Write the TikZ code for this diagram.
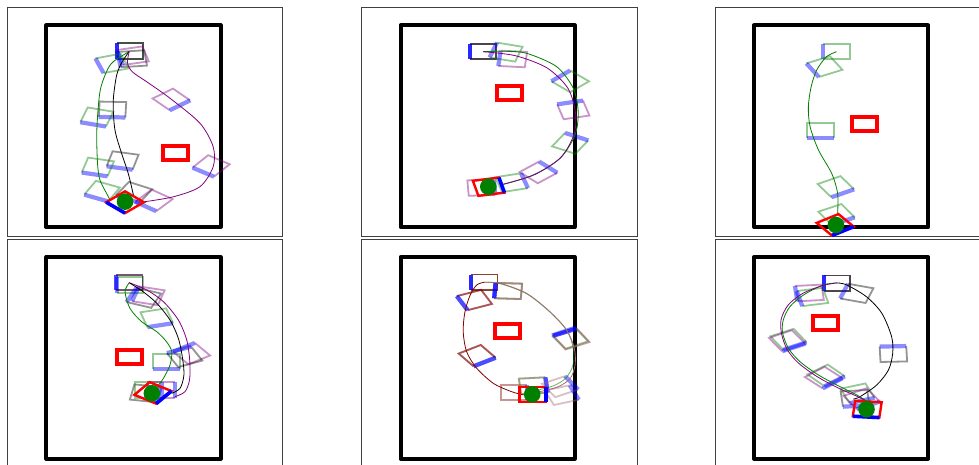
\documentclass[tikz,border=0pt]{standalone}
\definecolor{trgreen}{RGB}{0,128,0}
\definecolor{trpurple}{RGB}{128,0,128}
\definecolor{trmaroon}{RGB}{128,0,0}
\definecolor{trrosy}{RGB}{165,105,115}
\tikzset{
  panelframe/.style={draw=black!75, line width=0.8pt},
  room/.style={draw=black, line width=4pt, line join=round},
  obstacle/.style={draw=red, line width=4pt},
  posebody/.style={draw=#1, draw opacity=0.42, line width=1.8pt},
  posefront/.style={draw=blue, draw opacity=0.45, line width=4.2pt},
  goalbody/.style={draw=red, line width=2.4pt},
  goalfront/.style={draw=blue, line width=3.6pt},
  traj/.style={draw=#1, line width=0.8pt},
  world/.style={x=34.84pt, y=20.15pt},
}
% car pose: centre x, centre y, heading (deg), colour; square body, front edge in blue
\newcommand\carpose[4]{%
  \draw[posebody=#4] (#1,#2) +(#3+45:0.54) -- +(#3+135:0.54) -- +(#3+225:0.54) -- +(#3+315:0.54);
  \draw[posefront] (#1,#2) +(#3-45:0.54) -- +(#3+45:0.54);}
% target pose with its marker
\newcommand\goalpose[3]{%
  \draw[goalbody] (#1,#2) +(#3+45:0.54) -- +(#3+135:0.54) -- +(#3+225:0.54) -- +(#3+315:0.54) -- cycle;
  \draw[goalfront] (#1,#2) +(#3-45:0.54) -- +(#3+45:0.54);}
\newcommand\goaldot[2]{\fill[trgreen] (#1,#2) circle[radius=8.3pt];}
\newcommand\obstbox[2]{\draw[obstacle] (#1-0.36,#2-0.35) rectangle (#1+0.36,#2+0.35);}
\newcommand\roomwalls{\draw[room] (0,0) rectangle (5,10);}
\begin{document}
\begin{tikzpicture}[x=1pt,y=-1pt]
\useasboundingbox (0,0) rectangle (979,465);
\clip (0,0) rectangle (979,465);
\fill[white] (0,0) rectangle (979,465);
\foreach \ox/\oy in {0/0,354.2/0,707.7/0,0/231.6,354.2/231.6,707.7/231.6}
  \draw[panelframe] (7.3+\ox,7.3+\oy) rectangle (282.7+\ox,236+\oy);

% ---------- panel 1 ----------
\begin{scope}[shift={(46.3,227)}, world]
  \roomwalls
  \obstbox{3.71}{3.68}
  \carpose{2.40}{8.73}{180}{trpurple}
  \carpose{2.40}{8.73}{180}{trgreen}
  \carpose{2.40}{8.73}{180}{black}
  \carpose{2.47}{8.35}{186}{black}
  \carpose{2.48}{8.50}{194}{trpurple}
  \carpose{1.89}{8.12}{198}{trgreen}
  \carpose{1.90}{5.83}{268}{black}
  \carpose{1.45}{5.46}{254}{trgreen}
  \carpose{3.59}{6.33}{310}{trpurple}
  \carpose{2.19}{3.30}{257}{black}
  \carpose{1.48}{2.98}{256}{trgreen}
  \carpose{4.73}{3.03}{234}{trpurple}
  \carpose{1.60}{1.78}{244}{trgreen}
  \carpose{2.52}{1.72}{241}{black}
  \carpose{3.09}{1.32}{232}{trpurple}
  \draw[traj=trgreen] plot[smooth] coordinates {(2.38,8.71) (1.92,8.20) (1.73,7.71) (1.54,6.71) (1.45,4.81) (1.47,3.16) (1.54,2.33) (1.73,1.67) (1.83,1.34)};
  \draw[traj=black] plot[smooth] coordinates {(2.38,8.71) (2.18,8.2) (2.02,7.54) (1.92,6.21) (1.97,4.82) (2.16,3.66) (2.35,2.67) (2.50,1.59)};
  \draw[traj=trpurple] plot[smooth] coordinates {(2.38,8.71) (2.33,8.15) (2.47,7.7) (2.88,7.21) (3.55,6.39) (4.41,5.15) (4.79,3.98) (4.79,2.99) (4.41,2.00) (3.65,1.50) (2.80,1.25)};
  \goalpose{2.26}{1.23}{225}
  \goaldot{2.26}{1.26}
\end{scope}

% ---------- panel 2 ----------
\begin{scope}[shift={(400.5,227)}, world]
  \roomwalls
  \obstbox{3.13}{6.64}
  \carpose{2.37}{8.70}{180}{trgreen}
  \carpose{2.37}{8.70}{180}{trpurple}
  \carpose{2.37}{8.70}{180}{black}
  \carpose{3.03}{8.68}{164}{trgreen}
  \carpose{3.22}{8.34}{175}{trpurple}
  \carpose{4.87}{7.23}{135}{trgreen}
  \carpose{4.96}{5.81}{104}{trpurple}
  \carpose{4.87}{4.15}{61}{trgreen}
  \carpose{3.96}{2.71}{43}{trpurple}
  \carpose{3.19}{2.20}{15}{trgreen}
  \carpose{2.32}{1.95}{3}{trpurple}
  \draw[traj=trgreen] plot[smooth] coordinates {(2.37,8.70) (3.0,8.72) (3.62,8.62) (4.48,7.96) (4.96,6.88) (5.10,5.72) (5.01,4.57) (4.58,3.41) (3.81,2.58) (2.95,2.12)};
  \draw[traj=trpurple] plot[smooth] coordinates {(2.37,8.70) (3.3,8.5) (4.2,7.9) (4.8,6.9) (5.02,5.7) (4.98,4.6) (4.6,3.45) (3.85,2.6) (2.95,2.12)};
  \goalpose{2.53}{2.0}{12}
  \goaldot{2.52}{2.0}
\end{scope}

% ---------- panel 3 ----------
\begin{scope}[shift={(754,227)}, world]
  \roomwalls
  \obstbox{3.16}{5.10}
  \carpose{2.37}{8.70}{180}{trgreen}
  \carpose{2.02}{7.96}{208}{trgreen}
  \carpose{1.91}{4.78}{270}{trgreen}
  \carpose{2.35}{2.00}{301}{trgreen}
  \carpose{2.37}{0.62}{300}{trgreen}
  \draw[traj=trgreen] plot[smooth] coordinates {(2.37,8.70) (2.08,8.45) (1.80,7.79) (1.64,6.96) (1.56,5.97) (1.61,4.98) (1.85,3.82) (2.23,2.66) (2.40,1.67) (2.40,0.68)};
  \goalpose{2.33}{0.11}{305}
  \goaldot{2.35}{0.10}
\end{scope}

% ---------- panel 4 ----------
\begin{scope}[shift={(46.3,458.6)}, world]
  \roomwalls
  \obstbox{2.40}{5.06}
  \carpose{2.40}{8.62}{180}{trgreen}
  \carpose{2.38}{8.73}{180}{trpurple}
  \carpose{2.38}{8.73}{180}{black}
  \carpose{2.80}{7.98}{158}{black}
  \carpose{2.93}{8.08}{165}{trpurple}
  \carpose{3.17}{6.99}{285}{trgreen}
  \carpose{3.45}{4.82}{270}{trgreen}
  \carpose{4.17}{5.21}{125}{trpurple}
  \carpose{3.97}{5.05}{115}{black}
  \carpose{2.84}{3.24}{350}{black}
  \carpose{2.93}{3.40}{0}{trgreen}
  \carpose{3.31}{3.40}{0}{trpurple}
  \draw[traj=trgreen] plot[smooth] coordinates {(2.38,8.73) (2.26,8.28) (2.40,7.46) (2.74,6.79) (3.17,6.30) (3.45,5.80) (3.60,5.31) (3.55,4.64) (3.36,3.98) (3.22,3.65)};
  \draw[traj=trpurple] plot[smooth] coordinates {(2.38,8.73) (2.88,8.37) (3.36,7.79) (3.79,6.88) (4.03,5.89) (4.12,4.81) (4.11,3.90) (3.98,3.32) (3.69,3.07)};
  \draw[traj=black] plot[smooth] coordinates {(2.38,8.73) (2.78,8.28) (3.17,7.71) (3.55,6.88) (3.79,5.97) (3.91,4.98) (3.95,4.15) (3.84,3.49) (3.60,3.24)};
  \goalpose{3.06}{3.26}{325}
  \goaldot{3.03}{3.24}
\end{scope}

% ---------- panel 5 ----------
\begin{scope}[shift={(400.5,458.6)}, world]
  \roomwalls
  \obstbox{3.06}{6.34}
  \carpose{2.40}{8.75}{180}{trgreen}
  \carpose{2.40}{8.75}{180}{trmaroon}
  \carpose{2.40}{8.75}{180}{trmaroon}
  \carpose{2.12}{7.87}{204}{trmaroon}
  \carpose{2.12}{7.87}{204}{trmaroon}
  \carpose{3.09}{8.32}{177}{trgreen}
  \carpose{3.09}{8.32}{177}{trrosy}
  \carpose{3.09}{8.32}{177}{trrosy}
  \carpose{4.87}{5.97}{120}{trgreen}
  \carpose{4.90}{5.94}{118}{trrosy}
  \carpose{4.90}{5.94}{118}{trrosy}
  \carpose{2.20}{5.11}{304}{trmaroon}
  \carpose{2.20}{5.11}{304}{trmaroon}
  \carpose{3.26}{3.29}{0}{trmaroon}
  \carpose{3.81}{3.62}{5}{trgreen}
  \carpose{3.81}{3.62}{5}{trrosy}
  \carpose{4.58}{3.57}{30}{trrosy}
  \carpose{4.63}{3.15}{20}{trrosy}
  \draw[traj=trgreen, draw opacity=0.6] plot[smooth] coordinates {(2.40,8.75) (2.86,8.68) (3.62,8.18) (4.29,7.27) (4.77,6.36) (4.96,5.47) (4.95,4.64) (4.75,4.00) (4.40,3.62) (3.95,3.40) (3.80,3.25)};
  \draw[traj=trrosy] plot[smooth] coordinates {(2.40,8.75) (2.86,8.70) (3.62,8.20) (4.29,7.29) (4.77,6.38) (4.99,5.47) (5.01,4.64) (4.87,3.98) (4.53,3.57) (4.00,3.32) (3.80,3.25)};
  \draw[traj=trmaroon] plot[smooth] coordinates {(2.40,8.75) (2.19,8.62) (2.00,8.12) (1.85,7.29) (1.80,6.30) (1.90,5.30) (2.19,4.48) (2.67,3.73) (3.19,3.32) (3.53,3.16)};
  \goalpose{3.80}{3.18}{0}
  \goaldot{3.78}{3.19}
\end{scope}

% ---------- panel 6 ----------
\begin{scope}[shift={(754,458.6)}, world]
  \roomwalls
  \obstbox{2.05}{6.74}
  \carpose{2.38}{8.71}{180}{trgreen}
  \carpose{2.38}{8.71}{180}{trpurple}
  \carpose{2.38}{8.71}{180}{black}
  \carpose{2.95}{8.20}{163}{black}
  \carpose{1.59}{8.22}{185}{trpurple}
  \carpose{1.68}{8.02}{192}{trgreen}
  \carpose{0.99}{5.92}{299}{trgreen}
  \carpose{0.95}{5.85}{300}{trpurple}
  \carpose{4.00}{5.19}{92}{black}
  \carpose{2.07}{4.13}{310}{trgreen}
  \carpose{2.00}{4.02}{312}{trpurple}
  \carpose{2.90}{2.99}{275}{black}
  \carpose{2.97}{3.24}{290}{trgreen}
  \carpose{3.09}{2.97}{300}{trpurple}
  \draw[traj=black] plot[smooth] coordinates {(2.38,8.72) (2.66,8.62) (3.23,8.03) (3.67,7.21) (3.95,6.05) (3.98,5.22) (3.86,4.40) (3.52,3.65) (3.04,3.07) (2.85,2.95)};
  \draw[traj=trgreen] plot[smooth] coordinates {(2.38,8.72) (1.99,8.62) (1.42,8.12) (1.03,7.54) (0.84,6.88) (0.82,6.24) (0.99,5.47) (1.32,4.81) (1.85,4.15) (2.47,3.57) (2.95,3.16) (3.23,2.85)};
  \draw[traj=trpurple] plot[smooth] coordinates {(2.38,8.72) (1.95,8.58) (1.38,8.18) (0.98,7.62) (0.78,6.92) (0.79,6.20) (0.95,5.42) (1.27,4.75) (1.80,4.08) (2.42,3.50) (2.92,3.12) (3.23,2.85)};
  \goalpose{3.25}{2.45}{265}
  \goaldot{3.23}{2.45}
\end{scope}
\end{tikzpicture}
\end{document}
